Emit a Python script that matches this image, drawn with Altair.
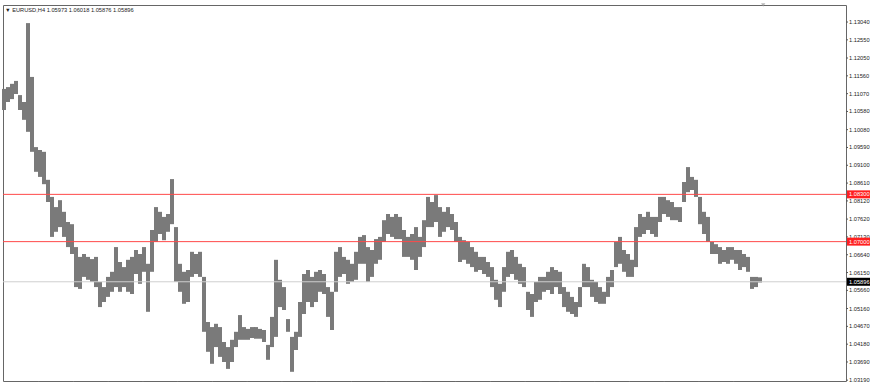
import altair as alt
import pandas as pd

highs = [1.1120,1.1125,1.1134,1.1142,1.1103,1.1084,1.1301,1.1153,1.0960,1.0952,
         1.0947,1.0870,1.0823,1.0795,1.0814,1.0782,1.0754,1.0748,1.0685,1.0658,
         1.0666,1.0658,1.0652,1.0658,1.0589,1.0575,1.0603,1.0617,1.0685,1.0644,
         1.0630,1.0650,1.0658,1.0677,1.0666,1.0685,1.0639,1.0732,1.0795,1.0782,
         1.0768,1.0776,1.0872,1.0740,1.0639,1.0617,1.0622,1.0672,1.0666,1.0672,
         1.0603,1.0479,1.0465,1.0474,1.0465,1.0424,1.0410,1.0430,1.0452,1.0498,
         1.0465,1.0460,1.0465,1.0465,1.0460,1.0457,1.0416,1.0493,1.0650,1.0595,
         1.0575,1.0487,1.0438,1.0452,1.0534,1.0611,1.0622,1.0603,1.0617,1.0622,
         1.0611,1.0575,1.0562,1.0672,1.0685,1.0658,1.0650,1.0639,1.0672,1.0713,
         1.0718,1.0685,1.0677,1.0707,1.0713,1.0759,1.0776,1.0768,1.0776,1.0768,
         1.0732,1.0713,1.0721,1.0740,1.0713,1.0759,1.0823,1.0809,1.0828,1.0795,
         1.0782,1.0795,1.0776,1.0754,1.0713,1.0704,1.0699,1.0685,1.0672,1.0658,
         1.0658,1.0644,1.0630,1.0595,1.0584,1.0630,1.0672,1.0677,1.0658,1.0639,
         1.0630,1.0562,1.0556,1.0589,1.0603,1.0603,1.0617,1.0630,1.0622,1.0617,
         1.0575,1.0562,1.0548,1.0534,1.0575,1.0639,1.0630,1.0595,1.0589,1.0575,
         1.0562,1.0603,1.0622,1.0699,1.0713,1.0677,1.0666,1.0650,1.0740,1.0776,
         1.0768,1.0782,1.0768,1.0768,1.0823,1.0823,1.0814,1.0809,1.0795,1.0795,
         1.0864,1.0905,1.0878,1.0870,1.0823,1.0782,1.0768,1.0699,1.0693,1.0685,
         1.0677,1.0685,1.0685,1.0677,1.0677,1.0666,1.0658,1.0603,1.0603,1.06018]
lows = [1.1062,1.1084,1.1092,1.1106,1.1062,1.1035,1.1002,1.0947,1.0892,1.0878,
        1.0858,1.0809,1.0713,1.0727,1.0740,1.0713,1.0685,1.0666,1.0575,1.0570,
        1.0603,1.0595,1.0589,1.0575,1.0520,1.0534,1.0548,1.0562,1.0575,1.0562,
        1.0575,1.0562,1.0556,1.0611,1.0584,1.0617,1.0507,1.0617,1.0699,1.0721,
        1.0704,1.0727,1.0748,1.0589,1.0562,1.0529,1.0534,1.0603,1.0611,1.0603,
        1.0452,1.0397,1.0364,1.0410,1.0383,1.0369,1.0350,1.0369,1.0410,1.0430,
        1.0430,1.0430,1.0435,1.0433,1.0433,1.0424,1.0375,1.0410,1.0438,1.0520,
        1.0512,1.0452,1.0342,1.0402,1.0438,1.0501,1.0534,1.0520,1.0534,1.0562,
        1.0556,1.0493,1.0457,1.0562,1.0603,1.0611,1.0584,1.0589,1.0595,1.0639,
        1.0639,1.0589,1.0603,1.0639,1.0650,1.0699,1.0721,1.0713,1.0707,1.0707,
        1.0658,1.0658,1.0650,1.0622,1.0658,1.0685,1.0740,1.0740,1.0754,1.0713,
        1.0727,1.0740,1.0732,1.0699,1.0644,1.0650,1.0639,1.0630,1.0617,1.0622,
        1.0611,1.0603,1.0575,1.0540,1.0520,1.0562,1.0603,1.0611,1.0595,1.0584,
        1.0575,1.0512,1.0493,1.0534,1.0540,1.0562,1.0567,1.0556,1.0575,1.0556,
        1.0520,1.0507,1.0501,1.0493,1.0520,1.0575,1.0575,1.0548,1.0534,1.0529,
        1.0529,1.0548,1.0575,1.0630,1.0639,1.0617,1.0603,1.0603,1.0630,1.0713,
        1.0721,1.0732,1.0721,1.0713,1.0754,1.0776,1.0768,1.0759,1.0759,1.0754,
        1.0809,1.0836,1.0842,1.0823,1.0748,1.0721,1.0699,1.0666,1.0666,1.0639,
        1.0644,1.0639,1.0650,1.0639,1.0622,1.0630,1.0617,1.0570,1.0575,1.05876]

price_ticks = [1.13040,1.12550,1.12050,1.11560,1.11070,1.10580,1.10080,1.09590,
               1.09100,1.08610,1.08120,1.07620,1.07130,1.06640,1.06150,1.05660,
               1.05160,1.04670,1.04180,1.03690,1.03190]
time_ticks = [8.68,17.36,26.05,34.74,43.43,52.11,60.80,69.49,78.18,86.86,95.55,
              104.24,112.93,121.61,130.30,138.99,147.68,156.36,165.05,173.74,182.43]
level_lines = [1.08300, 1.07000]
last_price = 1.05896
header = "▼ EURUSD,H4  1.05973 1.06018 1.05876 1.05896"

bars = pd.DataFrame({"i": list(range(len(highs))), "high": highs, "low": lows})
levels = pd.DataFrame({"p": level_lines, "label": [f"{v:.5f}" for v in level_lines]})
lastdf = pd.DataFrame({"p": [last_price], "label": [f"{last_price:.5f}"]})
ptick_df = pd.DataFrame({"p": price_ticks, "label": [f"{v:.5f}" for v in price_ticks]})
ttick_df = pd.DataFrame({"i": time_ticks})

xs = alt.Scale(domain=[-0.25, 210.5], nice=False, zero=False)
ys = alt.Scale(domain=[1.03167, 1.13508], nice=False, zero=False)

W, H = 843, 376
FONT = "Liberation Sans"
FS = 5.7

bar_layer = alt.Chart(bars).mark_rule(color="#7a7a7a", strokeWidth=4).encode(
    x=alt.X("i:Q", scale=xs, axis=None),
    y=alt.Y("low:Q", scale=ys, axis=None),
    y2="high:Q",
)

level_rules = alt.Chart(levels).mark_rule(color="#ff4a4a", strokeWidth=1).encode(
    y=alt.Y("p:Q", scale=ys, axis=None))
last_rule = alt.Chart(lastdf).mark_rule(color="#cfcfcf", strokeWidth=1).encode(
    y=alt.Y("p:Q", scale=ys, axis=None))

# right price scale (drawn as marks)
price_tick_marks = alt.Chart(ptick_df).mark_rule(color="#555555", clip=False).encode(
    x=alt.value(W), x2=alt.value(W + 2), y=alt.Y("p:Q", scale=ys, axis=None))
price_labels = alt.Chart(ptick_df).mark_text(
    align="left", baseline="middle", font=FONT, fontSize=FS, color="#222222",
    clip=False).encode(
    x=alt.value(W + 3), y=alt.Y("p:Q", scale=ys, axis=None), text="label:N")

# bottom time ticks
time_tick_marks = alt.Chart(ttick_df).mark_rule(color="#777777", clip=False).encode(
    x=alt.X("i:Q", scale=xs, axis=None), y=alt.value(H), y2=alt.value(H + 3))

def tag(df, color):
    r = alt.Chart(df).transform_calculate(
        top="datum.p + 0.0011", bot="datum.p - 0.0011"
    ).mark_rect(color=color, clip=False).encode(
        x=alt.value(W + 1), x2=alt.value(W + 24),
        y=alt.Y("top:Q", scale=ys, axis=None), y2="bot:Q")
    t = alt.Chart(df).mark_text(align="left", baseline="middle", color="white",
                                font=FONT, fontSize=FS, clip=False).encode(
        x=alt.value(W + 3), y=alt.Y("p:Q", scale=ys, axis=None), text="label:N")
    return r + t

header_layer = alt.Chart(pd.DataFrame({"t": [header]})).mark_text(
    align="left", baseline="middle", font=FONT, fontSize=FS,
    color="#222222").encode(x=alt.value(2), y=alt.value(5), text="t:N")

shift_marker = alt.Chart(pd.DataFrame({"i": [189.8]})).mark_point(
    shape="triangle-down", filled=True, color="#9a9a9a", size=18, clip=False).encode(
    x=alt.X("i:Q", scale=xs, axis=None), y=alt.value(0))

chart = alt.layer(
    bar_layer, level_rules, last_rule,
    price_tick_marks, price_labels, time_tick_marks,
    tag(levels, "#ff2020"), tag(lastdf, "#000000"),
    header_layer, shift_marker,
).properties(
    width=W, height=H,
    padding={"left": 2, "top": 3, "right": 0, "bottom": 0},
    background="white",
).configure_view(
    stroke="#666666", strokeWidth=1
)

chart.save("out.html", embed_options={"renderer": "svg", "actions": False})
